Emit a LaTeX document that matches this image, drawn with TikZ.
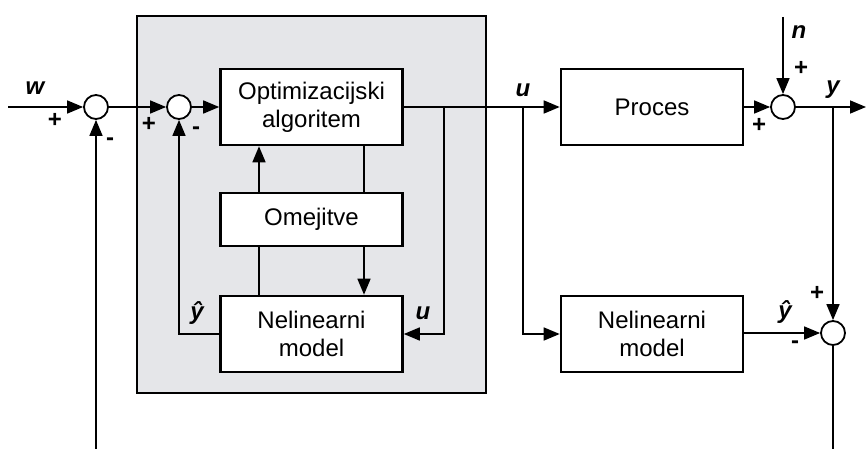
\documentclass[tikz,border=0pt]{standalone}
\usepackage{fontspec}
\setmainfont{Liberation Sans}
\usetikzlibrary{positioning, arrows.meta, calc}
\definecolor{PanelGray}{RGB}{229,230,233}

\tikzset{
  blok/.style={draw, line width=1.3pt, fill=white, minimum width=91pt, minimum height=38pt,
    align=center, inner sep=0pt, font=\fontsize{12}{14}\selectfont},
  sumator/.style={draw, circle, line width=0.9pt, fill=white, minimum size=12pt, inner sep=0pt},
  signal/.style={line width=0.8pt},
  puscica/.style={signal, -{Triangle[length=8pt,width=6.5pt]}},
  oznaka/.style={font=\fontsize{12}{14}\selectfont\bfseries\itshape},
  znak/.style={font=\fontsize{12}{14}\selectfont\bfseries}
}

\begin{document}
\begin{tikzpicture}[x=0.5pt, y=-0.5pt]
                \useasboundingbox (0,0) rectangle (866,449);
                % Regulator (siva ploskev)
                \draw[fill=PanelGray, line width=1pt] (137,16) rectangle (486,393);

                % Bloki
                \node[blok] (opt) at (311.5,107) {Optimizacijski\\algoritem};
                \node[blok, minimum height=26.5pt] (omej) at (311.5,219.5) {Omejitve};
                \node[blok] (model) at (311.5,334) {Nelinearni\\model};
                \node[blok] (proces) at (652,107) {Proces};
                \node[blok] (model2) at (652,334) {Nelinearni\\model};

                % Sumatorji
                \node[sumator] (s1) at (96,107) {};
                \node[sumator] (s2) at (179,107) {};
                \node[sumator] (s3) at (783,107) {};
                \node[sumator] (s4) at (833,333) {};

                % Vhodi, izhodi in razcepi
                \coordinate (w) at (8,107);
                \coordinate (n) at (783,17);
                \coordinate (izhod) at (866,107);
                \coordinate (fb1) at (96,449);
                \coordinate (fb4) at (833,449);
                \coordinate (r1) at (444,107);
                \coordinate (r2) at (523,107);
                \coordinate (r3) at (833,107);

                % Glavna veja
                \draw[puscica] (w) -- (s1);
                \draw[puscica] (s1) -- (s2);
                \draw[puscica] (s2) -- (opt);
                \draw[puscica] (opt) -- (proces);
                \draw[puscica] (proces) -- (s3);
                \draw[puscica] (s3) -- (izhod);
                \draw[puscica] (n) -- (s3);

                % Povezave znotraj regulatorja
                \draw[puscica] (omej.north -| 259,0) -- (opt.south -| 259,0);
                \draw[signal] (opt.south -| 364,0) -- (omej.north -| 364,0);
                \draw[signal] (omej.south -| 259,0) -- (model.north -| 259,0);
                \draw[puscica] (omej.south -| 364,0) -- (model.north -| 364,0);
                \draw[puscica] (r1) |- (model.east |- 0,334);
                \draw[puscica] (model.west |- 0,334) -| (s2);

                % Model vzporedno s procesom
                \draw[puscica] (r2) |- (model2);
                \draw[puscica] (model2.east |- s4) -- (s4);
                \draw[puscica] (r3) -- (s4);
                \draw[signal] (s4) -- (fb4);
                \draw[puscica] (fb1) -- (s1);

                % Oznake signalov
                \node[oznaka] (lw) at (35,88) {w};
                \node[oznaka] (lu) at (523,90) {u};
                \node[oznaka] (ln) at (799,32) {n};
                \node[oznaka] (ly) at (833,90) {y};
                \node[oznaka] (lyh) at (197,313) {ŷ};
                \node[oznaka] (lu2) at (423,313) {u};
                \node[oznaka] (lyh2) at (785,312) {ŷ};

                % Predznaki
                \node[znak] (p1) at (55,120) {+};
                \node[znak] (m1) at (110,142) {-};
                \node[znak] (p2) at (149,124) {+};
                \node[znak] (m2) at (196,131) {-};
                \node[znak] (p3) at (801,68) {+};
                \node[znak] (p4) at (759,125) {+};
                \node[znak] (p5) at (817,293) {+};
                \node[znak] (m4) at (795,345) {-};
\end{tikzpicture}
\end{document}
